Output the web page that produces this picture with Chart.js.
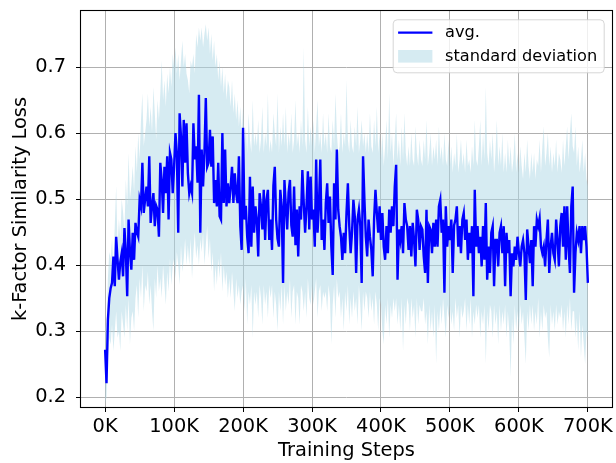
<!DOCTYPE html>
<html><head><meta charset="utf-8">
<script src="https://cdn.jsdelivr.net/npm/chart.js@4.4.0/dist/chart.umd.min.js"></script>
<style>html,body{margin:0;padding:0;background:#fff;}canvas{display:block;}</style>
</head><body>
<canvas id="c" width="616" height="463"></canvas>
<script>
// logging interval of the training run (steps between recorded points)
const STEP = 2000;

// average k-factor similarity loss, one value per logged step (0 .. 700K)
const avgLoss = [
.272,.221,.317,.350,.365,.373,.413,.368,.443,.408,
.378,.405,.418,.383,.456,.420,.353,.469,.420,.393,
.449,.408,.464,.450,.443,.499,.489,.555,.479,.500,
.519,.489,.565,.464,.489,.509,.459,.490,.484,.443,
.555,.529,.479,.549,.509,.565,.469,.570,.560,.509,
.549,.600,.570,.449,.630,.595,.519,.620,.555,.615,
.539,.509,.520,.509,.615,.560,.580,.525,.658,.449,
.575,.519,.570,.653,.549,.555,.605,.549,.595,.494,
.529,.489,.555,.474,.469,.600,.494,.575,.489,.524,
.494,.519,.549,.494,.539,.509,.494,.565,.459,.423,
.608,.469,.490,.443,.418,.534,.428,.519,.449,.489,
.469,.413,.509,.489,.454,.514,.438,.499,.514,.438,
.469,.423,.520,.549,.469,.440,.428,.514,.489,.373,
.529,.489,.454,.510,.529,.460,.443,.519,.430,.484,
.413,.489,.469,.544,.494,.449,.489,.542,.454,.534,
.469,.484,.428,.560,.449,.489,.560,.438,.469,.423,
.494,.524,.464,.504,.428,.385,.524,.469,.575,.484,
.459,.443,.408,.449,.418,.479,.524,.459,.418,.449,
.499,.474,.388,.469,.484,.459,.373,.565,.499,.443,
.413,.469,.443,.423,.383,.469,.514,.479,.449,.489,
.438,.479,.428,.408,.459,.418,.484,.449,.489,.459,
.519,.552,.378,.454,.438,.459,.418,.494,.469,.459,
.423,.459,.413,.464,.438,.398,.484,.469,.423,.459,
.454,.413,.388,.484,.373,.459,.454,.418,.464,.428,
.469,.428,.489,.499,.449,.469,.358,.489,.428,.459,
.438,.469,.388,.460,.469,.489,.428,.459,.418,.469,
.479,.438,.469,.408,.449,.418,.459,.353,.514,.428,
.459,.418,.443,.398,.459,.408,.494,.378,.428,.388,
.449,.459,.368,.438,.438,.398,.449,.459,.418,.459,
.368,.449,.418,.438,.353,.418,.398,.428,.408,.443,
.418,.398,.428,.438,.418,.347,.454,.428,.403,.438,
.368,.459,.428,.469,.459,.471,.428,.418,.428,.398,
.438,.469,.388,.428,.449,.418,.408,.469,.438,.398,
.459,.479,.428,.489,.408,.489,.428,.388,.489,.519,
.358,.418,.449,.438,.459,.418,.459,.438,.459,.428,
.373
];

// upper edge of the standard-deviation band
const stdUpper = [
.31,.30,.38,.42,.41,.44,.40,.46,.52,.43,
.47,.44,.50,.48,.45,.53,.49,.57,.50,.52,
.55,.51,.58,.54,.60,.56,.62,.66,.58,.60,
.62,.66,.61,.64,.60,.67,.63,.59,.65,.62,
.66,.71,.65,.68,.64,.69,.66,.70,.67,.72,
.70,.73,.69,.72,.68,.71,.74,.70,.72,.69,
.68,.66,.71,.70,.72,.69,.75,.73,.76,.74,
.76,.73,.75,.765,.74,.76,.72,.75,.71,.74,
.70,.72,.68,.71,.67,.70,.66,.69,.65,.68,
.67,.64,.68,.63,.66,.62,.65,.61,.64,.60,
.64,.58,.61,.57,.63,.59,.57,.65,.58,.60,
.58,.62,.57,.59,.64,.57,.60,.58,.66,.57,
.59,.57,.63,.60,.58,.66,.57,.61,.58,.63,
.58,.64,.57,.60,.58,.63,.57,.59,.65,.58,
.60,.57,.62,.58,.73,.59,.57,.64,.58,.61,
.58,.62,.57,.61,.65,.58,.60,.57,.63,.58,
.60,.57,.63,.58,.57,.62,.58,.66,.60,.57,
.58,.63,.57,.60,.58,.68,.59,.57,.62,.58,
.57,.61,.58,.64,.57,.59,.62,.58,.60,.57,
.60,.57,.63,.58,.57,.62,.58,.64,.57,.60,
.56,.60,.55,.58,.62,.56,.66,.57,.60,.55,
.59,.63,.56,.59,.55,.61,.56,.63,.57,.55,
.58,.55,.60,.56,.55,.61,.57,.55,.59,.56,
.55,.59,.56,.62,.55,.57,.60,.55,.58,.56,
.59,.55,.61,.56,.58,.55,.60,.56,.55,.59,
.55,.58,.54,.57,.55,.60,.54,.56,.59,.55,
.57,.54,.59,.55,.56,.54,.58,.55,.62,.56,
.55,.58,.62,.55,.60,.56,.67,.57,.55,.59,
.56,.60,.54,.57,.62,.55,.58,.55,.60,.54,
.57,.54,.59,.55,.58,.54,.56,.60,.54,.57,
.54,.58,.55,.53,.57,.54,.59,.55,.53,.57,
.54,.57,.53,.56,.55,.59,.54,.58,.61,.55,
.57,.60,.55,.58,.54,.57,.55,.59,.54,.57,
.56,.54,.59,.55,.58,.61,.56,.60,.63,.58,
.57,.61,.55,.58,.54,.56,.59,.54,.57,.53,
.52
];

// lower edge of the standard-deviation band
const stdLower = [
.19,.20,.26,.29,.28,.31,.27,.30,.33,.29,
.30,.27,.33,.31,.29,.34,.30,.35,.28,.32,
.33,.30,.35,.37,.32,.38,.35,.40,.33,.37,
.36,.39,.34,.37,.33,.30,.38,.35,.40,.36,
.38,.35,.40,.37,.34,.39,.36,.41,.37,.40,
.41,.38,.42,.40,.37,.43,.39,.41,.44,.40,
.43,.40,.44,.38,.42,.45,.41,.43,.40,.44,
.42,.45,.40,.43,.46,.41,.44,.39,.42,.36,
.40,.37,.41,.38,.42,.36,.40,.37,.39,.35,
.38,.35,.39,.36,.33,.38,.35,.37,.34,.36,
.37,.33,.38,.31,.36,.34,.37,.29,.36,.34,
.36,.32,.37,.35,.31,.37,.34,.36,.32,.37,
.35,.37,.32,.36,.34,.30,.36,.33,.37,.31,
.37,.33,.36,.34,.38,.32,.36,.37,.31,.36,
.35,.31,.37,.36,.33,.36,.32,.38,.35,.34,
.37,.34,.36,.38,.32,.36,.37,.33,.36,.35,
.36,.33,.37,.35,.28,.34,.37,.32,.38,.35,
.36,.32,.35,.30,.36,.33,.37,.31,.35,.32,
.36,.33,.35,.31,.37,.34,.30,.36,.33,.36,
.35,.32,.36,.33,.35,.31,.36,.34,.30,.35,
.34,.30,.28,.34,.31,.35,.29,.34,.32,.35,
.33,.35,.31,.34,.30,.35,.27,.34,.31,.35,
.34,.30,.35,.32,.34,.29,.35,.31,.34,.33,
.33,.35,.31,.33,.28,.34,.30,.33,.29,.34,
.25,.33,.30,.34,.31,.35,.32,.29,.34,.32,
.34,.31,.33,.30,.35,.32,.34,.29,.34,.32,
.33,.35,.30,.34,.31,.35,.29,.33,.31,.34,
.32,.34,.29,.33,.31,.34,.25,.33,.30,.34,
.33,.29,.34,.31,.33,.28,.34,.30,.33,.31,
.34,.29,.33,.30,.23,.32,.28,.34,.30,.33,
.30,.34,.31,.33,.29,.25,.33,.30,.34,.31,
.34,.30,.33,.31,.35,.29,.33,.30,.34,.32,
.33,.29,.26,.34,.31,.33,.30,.34,.31,.33,
.32,.34,.30,.33,.29,.34,.31,.35,.30,.33,
.33,.29,.32,.27,.33,.26,.31,.28,.25,.30,
.29
];

const xTickValues = [0,100000,200000,300000,400000,500000,600000,700000];
const yTickValues = [0.2,0.3,0.4,0.5,0.6,0.7];
const seriesNames = ['avg.', 'standard deviation'];
const xAxisTitle = 'Training Steps';
const yAxisTitle = 'k-Factor Similarity Loss';

const LINE_COLOR = '#0000ff';
const BAND_COLOR = 'rgba(173,216,230,0.5)';
const FONT = '"DejaVu Sans", sans-serif';

const steps = avgLoss.map((_, i) => i * STEP);
const toPts = arr => arr.map((v, i) => ({x: steps[i], y: v}));

const frame = {
  id: 'frame',
  afterDatasetsDraw(chart) {
    const {ctx, chartArea: a} = chart;
    ctx.save();
    ctx.strokeStyle = '#000';
    ctx.lineWidth = 1.1;
    ctx.strokeRect(Math.round(a.left) - 0.5, Math.round(a.top) - 0.5,
                   Math.round(a.right - a.left) + 1, Math.round(a.bottom - a.top) + 1);
    ctx.restore();
  }
};

const mplLegend = {
  id: 'mplLegend',
  afterDraw(chart) {
    const {ctx, chartArea: a} = chart;
    const pad = 8.3, w = 211, h = 53;
    const bx = a.right - pad - w, by = a.top + pad;
    ctx.save();
    ctx.beginPath();
    ctx.roundRect(bx + 0.5, by + 0.5, w, h, 4);
    ctx.fillStyle = 'rgba(255,255,255,0.8)';
    ctx.fill();
    ctx.strokeStyle = 'rgba(204,204,204,0.8)';
    ctx.lineWidth = 1;
    ctx.stroke();
    const hx0 = bx + 5.4, hx1 = bx + 39.7;
    const y1 = by + 13.4, y2 = by + 37;
    ctx.beginPath();
    ctx.moveTo(hx0, y1); ctx.lineTo(hx1, y1);
    ctx.strokeStyle = LINE_COLOR; ctx.lineWidth = 2.2;
    ctx.stroke();
    ctx.fillStyle = BAND_COLOR;
    ctx.fillRect(hx0, y2 - 6.3, hx1 - hx0, 12.6);
    ctx.fillStyle = '#000';
    ctx.font = '16.2px ' + FONT;
    ctx.textBaseline = 'middle';
    ctx.textAlign = 'left';
    ctx.fillText(seriesNames[0], bx + 52.3, y1);
    ctx.fillText(seriesNames[1], bx + 52.3, y2);
    ctx.restore();
  }
};

new Chart(document.getElementById('c'), {
  type: 'line',
  data: {
    datasets: [
      {label: seriesNames[0], data: toPts(avgLoss), borderColor: LINE_COLOR, borderWidth: 2.4,
       pointRadius: 0, fill: false, tension: 0},
      {label: seriesNames[1], data: toPts(stdUpper), borderWidth: 0, borderColor: 'rgba(0,0,0,0)',
       backgroundColor: BAND_COLOR, pointRadius: 0, fill: '+1', tension: 0},
      {label: 'lower', data: toPts(stdLower), borderWidth: 0, borderColor: 'rgba(0,0,0,0)',
       pointRadius: 0, fill: false, tension: 0}
    ]
  },
  options: {
    responsive: false,
    animation: false,
    devicePixelRatio: 1,
    layout: {padding: {top: 11, right: 4, left: 0, bottom: 0}},
    plugins: {legend: {display: false}, tooltip: {enabled: false}},
    scales: {
      x: {
        type: 'linear', min: -35000, max: 735000,
        afterBuildTicks: s => { s.ticks = xTickValues.map(v => ({value: v})); },
        afterFit: s => { s.height = 56; s.paddingLeft = 0; s.paddingRight = 0; },
        grid: {color: '#b0b0b0', lineWidth: 1, tickColor: '#000', tickLength: 5, drawTicks: true},
        border: {display: false},
        ticks: {color: '#000', font: {family: FONT, size: 19.4}, padding: 3.5, maxRotation: 0,
                autoSkip: false, callback: v => (v / 1000) + 'K'},
        title: {display: true, text: xAxisTitle, color: '#000', font: {family: FONT, size: 19.4},
                padding: {top: 0, bottom: 0.5}}
      },
      y: {
        type: 'linear', min: 0.185, max: 0.785,
        afterBuildTicks: s => { s.ticks = yTickValues.map(v => ({value: v})); },
        afterFit: s => { s.width = 81; s.paddingTop = 0; s.paddingBottom = 0; },
        grid: {color: '#b0b0b0', lineWidth: 1, tickColor: '#000', tickLength: 5, drawTicks: true},
        border: {display: false},
        ticks: {color: '#000', font: {family: FONT, size: 19.4}, padding: 10, autoSkip: false,
                callback: v => v.toFixed(1)},
        title: {display: true, text: yAxisTitle, color: '#000', font: {family: FONT, size: 19.4},
                padding: {top: 9.5, bottom: 0}}
      }
    }
  },
  plugins: [frame, mplLegend]
});
</script>
</body></html>
